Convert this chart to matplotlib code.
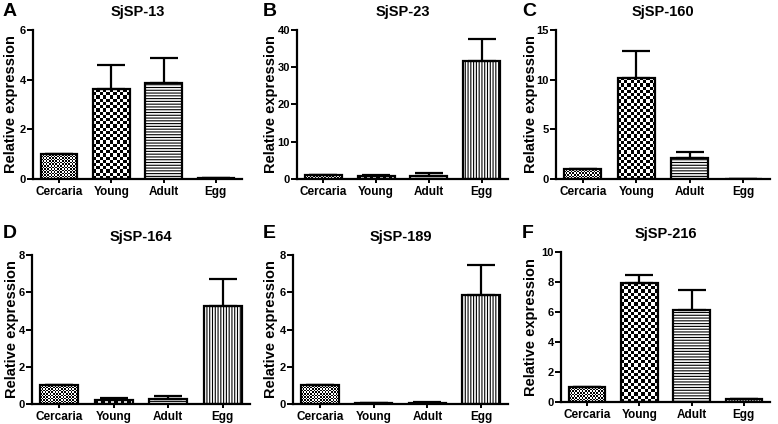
import numpy as np
import matplotlib
matplotlib.use("Agg")
import matplotlib.pyplot as plt

plt.rcParams['font.family'] = ['Liberation Sans', 'DejaVu Sans']
plt.rcParams['font.weight'] = 'bold'
plt.rcParams['hatch.linewidth'] = 0.8

stages = ["Cercaria", "Young", "Adult", "Egg"]
genes = ["SjSP-13", "SjSP-23", "SjSP-160", "SjSP-164", "SjSP-189", "SjSP-216"]
letters = ["A", "B", "C", "D", "E", "F"]

# mean relative expression per stage
sp13 = [1.0, 3.62, 3.87, 0.04]
sp23 = [1.0, 0.9, 0.7, 31.6]
sp160 = [1.0, 10.2, 2.15, 0.0]
sp164 = [1.0, 0.2, 0.28, 5.28]
sp189 = [1.0, 0.05, 0.07, 5.85]
sp216 = [1.0, 7.93, 6.13, 0.18]

# upper error bar (SD) per stage
sp13_err = [0.0, 0.97, 1.01, 0.0]
sp23_err = [0.0, 0.3, 0.8, 5.9]
sp160_err = [0.0, 2.7, 0.6, 0.0]
sp164_err = [0.0, 0.1, 0.17, 1.45]
sp189_err = [0.0, 0.0, 0.03, 1.6]
sp216_err = [0.0, 0.52, 1.37, 0.04]

y_max = [6, 40, 15, 8, 8, 10]
y_step = [2, 10, 5, 2, 2, 2]

means = [sp13, sp23, sp160, sp164, sp189, sp216]
errs = [sp13_err, sp23_err, sp160_err, sp164_err, sp189_err, sp216_err]

W, H = 778, 424
# axes boxes in pixels: left, right, top, bottom
boxes = [(33, 242, 30, 179), (297, 508, 30, 179), (556, 770, 30, 179),
         (32, 250, 255, 404), (293, 508, 255, 404), (561, 770, 252, 402)]
# pixel x of the right edge of each rotated y label
ylab_x = [18, 278, 538, 19, 278, 538]

fig = plt.figure(figsize=(W / 100, H / 100), dpi=100)


def checker(ax, bar, cell):
    x0, y0 = bar.get_x(), bar.get_y()
    w, h = bar.get_width(), bar.get_height()
    if h <= 0:
        return
    p0 = ax.transData.transform((x0, y0))
    p1 = ax.transData.transform((x0 + w, y0 + h))
    nx = max(1, int(round((p1[0] - p0[0]) / cell)))
    ny = max(1, int(round((p1[1] - p0[1]) / cell)))
    arr = np.indices((ny, nx)).sum(axis=0) % 2
    ax.imshow(arr, cmap='gray', vmin=0, vmax=1, extent=(x0, x0 + w, y0, y0 + h),
              interpolation='nearest', origin='lower', aspect='auto', zorder=2)


x = np.arange(len(stages))
for i in range(6):
    l, r, t, b = boxes[i]
    ax = fig.add_axes([l / W, 1 - b / H, (r - l) / W, (b - t) / H])
    ax.set_xlim(-0.5, 3.5)
    ax.set_ylim(0, y_max[i])
    bars = ax.bar(x, means[i], width=0.7, facecolor='none', edgecolor='black',
                  linewidth=1.6, zorder=3)
    bars[2].set_hatch('------')
    bars[3].set_hatch('||||||')
    checker(ax, bars[0], 1.6)
    checker(ax, bars[1], 3.2)
    ax.errorbar(x, means[i], yerr=[[0] * 4, errs[i]], fmt='none', ecolor='black',
                elinewidth=1.6, capsize=10, capthick=1.6, zorder=4)
    ax.set_xlim(-0.5, 3.5)
    ax.set_ylim(0, y_max[i])
    ax.set_yticks(np.arange(0, y_max[i] + 0.1, y_step[i]))
    ax.set_xticks(x)
    ax.set_xticklabels(stages)
    ax.spines['top'].set_visible(False)
    ax.spines['right'].set_visible(False)
    ax.spines['left'].set_linewidth(1.6)
    ax.spines['bottom'].set_linewidth(1.6)
    ax.tick_params(axis='y', labelsize=8, width=1.4, length=4, pad=1)
    ax.tick_params(axis='x', labelsize=8.5, width=1.4, length=3, pad=2)
    ax.set_ylabel("Relative expression", fontsize=10.5, fontweight='bold')
    ax.yaxis.set_label_coords((ylab_x[i] - l) / (r - l), 0.5)
    ax.set_title(genes[i], fontsize=10.5, fontweight='bold', pad=10)
    lx = 3 if i % 3 == 0 else (263 if i % 3 == 1 else 522)
    ly = 12 if i < 3 else 233
    fig.text(lx / W, 1 - ly / H, letters[i], fontsize=14, fontweight='bold',
             ha='left', va='center')

fig.savefig('out.png', dpi=100)
